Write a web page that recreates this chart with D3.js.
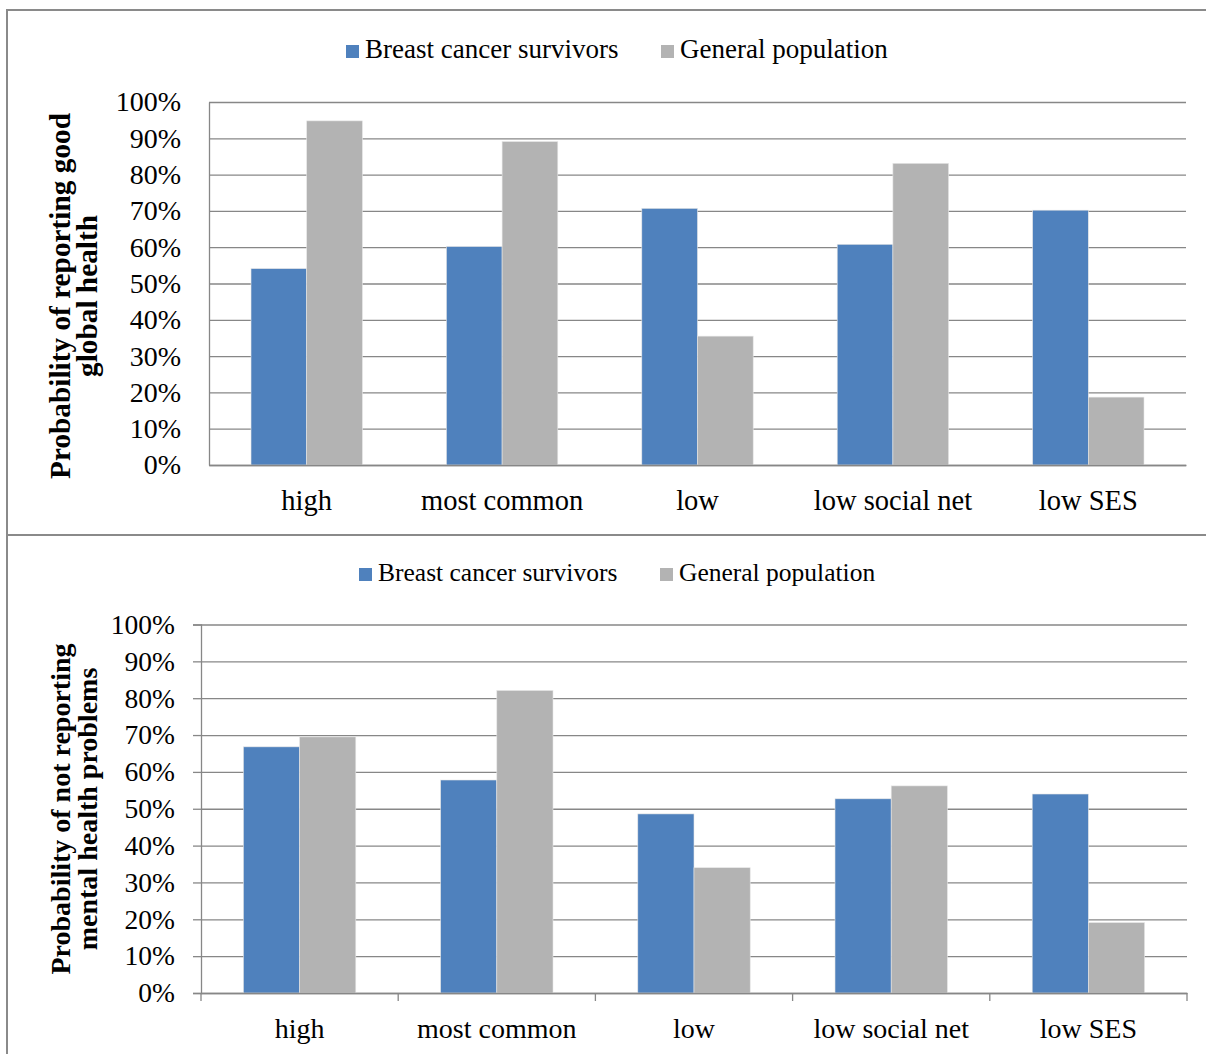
<!DOCTYPE html>
<html>
<head>
<meta charset="utf-8">
<script src="https://cdn.jsdelivr.net/npm/d3@7"></script>
<style>
html,body{margin:0;padding:0;background:#fff;}
svg{display:block;}
text{font-family:"Liberation Serif","Times New Roman",serif;fill:#000;}
</style>
</head>
<body>
<svg id="chart" width="1206" height="1054"></svg>
<script>
// ---- data ----
const categories = ["high", "most common", "low", "low social net", "low SES"];
const seriesNames = ["Breast cancer survivors", "General population"];
const seriesColors = ["#4F81BD", "#B3B3B3"];
const yTicks = [0, 10, 20, 30, 40, 50, 60, 70, 80, 90, 100];

const globalSurvivors = [54.1, 60.2, 70.7, 60.8, 70.2];
const globalGeneral   = [94.8, 89.1, 35.5, 83.1, 18.7];
const mentalSurvivors = [66.8, 57.8, 48.6, 52.7, 54.0];
const mentalGeneral   = [69.5, 82.1, 34.0, 56.2, 19.1];

const topTitle = ["Probability of reporting good", "global health"];
const bottomTitle = ["Probability of not reporting", "mental health problems"];

const svg = d3.select("#chart");
const gridColor = "#878787";

// frame
svg.append("path")
  .attr("d", "M7,1054 V10 H1206")
  .attr("fill", "none").attr("stroke", "#8a8a8a").attr("stroke-width", 2);
svg.append("line")
  .attr("x1", 7).attr("x2", 1206).attr("y1", 535).attr("y2", 535)
  .attr("stroke", "#8a8a8a").attr("stroke-width", 2);

function panel(opt) {
  const g = svg.append("g");
  const x0 = d3.scaleBand().domain(categories).range([opt.left, opt.right])
    .paddingInner(0.43).paddingOuter(0.215);
  const x1 = d3.scaleBand().domain(seriesNames).range([0, x0.bandwidth()]);
  const y = d3.scaleLinear().domain([0, 100]).range([opt.bottom, opt.top]);
  const W = opt.right - opt.left;

  // gridlines
  const grid = g.append("g").attr("transform", `translate(${opt.left},0)`)
    .call(d3.axisLeft(y).tickValues(yTicks).tickSize(-W).tickFormat(""));
  grid.select(".domain").remove();
  grid.selectAll(".tick line").attr("stroke", gridColor).attr("stroke-width", 1.3);

  // bars
  const rows = categories.map((c, i) => ({cat: c, vals: opt.series.map((s, j) => ({name: seriesNames[j], v: s[i], color: seriesColors[j]}))}));
  g.selectAll(".grp").data(rows).join("g")
    .attr("transform", d => `translate(${x0(d.cat)},0)`)
    .selectAll("rect").data(d => d.vals).join("rect")
    .attr("x", d => x1(d.name))
    .attr("width", x1.bandwidth())
    .attr("y", d => y(d.v))
    .attr("height", d => y(0) - y(d.v))
    .attr("fill", d => d.color)
    .attr("stroke", "#e6e6e6").attr("stroke-width", 0.6);

  // y axis
  const ya = g.append("g").attr("transform", `translate(${opt.left},0)`)
    .call(d3.axisLeft(y).tickValues(yTicks).tickSize(opt.yTick).tickPadding(opt.yPad).tickFormat(d => d + "%"));
  ya.select(".domain").attr("stroke", gridColor).attr("stroke-width", 1.3);
  ya.selectAll(".tick line").attr("stroke", gridColor).attr("stroke-width", 1.3);
  ya.selectAll("text").style("font-size", opt.yfs + "px").attr("fill", "#000");

  // x axis
  const xa = g.append("g").attr("transform", `translate(0,${opt.bottom})`)
    .call(d3.axisBottom(x0).tickSize(0).tickPadding(opt.xPad));
  xa.select(".domain").attr("stroke", gridColor).attr("stroke-width", 1.3);
  xa.selectAll("text").style("font-size", opt.xfs + "px").attr("fill", "#000");
  if (opt.xTicks) {
    const bounds = categories.map(c => x0(c) - x0.step() * x0.paddingOuter()).concat([opt.right]);
    g.selectAll(".xt").data(bounds).join("line")
      .attr("x1", d => d).attr("x2", d => d)
      .attr("y1", opt.bottom).attr("y2", opt.bottom + 8)
      .attr("stroke", gridColor).attr("stroke-width", 1.3);
  }

  // y title
  const t = g.append("text")
    .attr("transform", `translate(${opt.titleX},${opt.titleY}) rotate(-90)`)
    .attr("text-anchor", "middle")
    .style("font-size", opt.tfs + "px").style("font-weight", "bold");
  t.selectAll("tspan").data(opt.title).join("tspan")
    .attr("x", 0).attr("dy", (d, i) => i === 0 ? 0 : opt.tLine)
    .text(d => d);

  // legend
  const lg = g.append("g");
  seriesNames.forEach((n, i) => {
    const px = opt.legPos[i];
    lg.append("rect").attr("x", px).attr("y", opt.legY - 13).attr("width", 13).attr("height", 13).attr("fill", seriesColors[i]);
    lg.append("text").attr("x", px + 19).attr("y", opt.legY).style("font-size", opt.lfs + "px").text(n);
  });
}

panel({
  left: 209, right: 1186, top: 102, bottom: 465,
  series: [globalSurvivors, globalGeneral],
  yTick: 0, yPad: 28, xPad: 25, yfs: 28, xfs: 28.5, xTicks: false,
  title: topTitle, titleX: 70, titleY: 296, tfs: 29.3, tLine: 27,
  legPos: [346, 661], legY: 58, lfs: 27
});

panel({
  left: 201, right: 1187, top: 624.5, bottom: 993,
  series: [mentalSurvivors, mentalGeneral],
  yTick: 8, yPad: 18, xPad: 25, yfs: 27.5, xfs: 28, xTicks: true,
  title: bottomTitle, titleX: 70, titleY: 809, tfs: 28, tLine: 27,
  legPos: [359, 660], legY: 581, lfs: 25.5
});
</script>
</body>
</html>
